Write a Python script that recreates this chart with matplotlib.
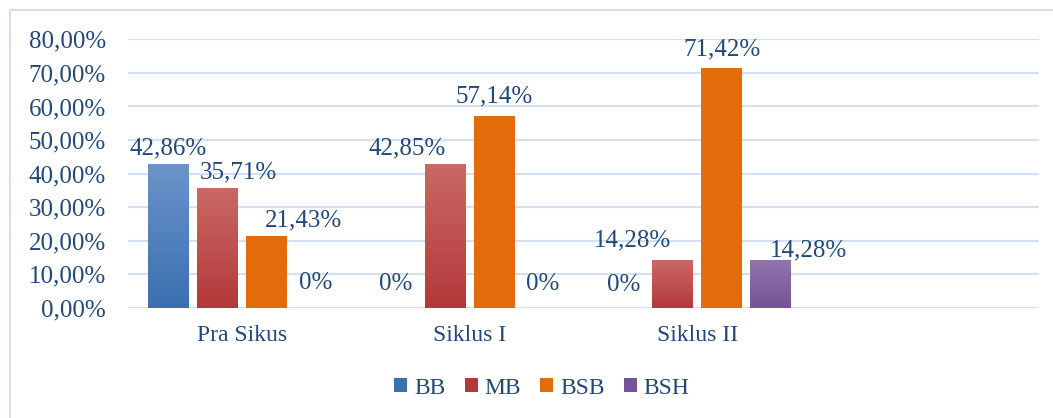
import numpy as np
import matplotlib.pyplot as plt
from matplotlib.patches import Patch, Rectangle
from matplotlib.colors import LinearSegmentedColormap
from matplotlib.ticker import FuncFormatter

# --- DATA ---
categories = ["Pra Sikus", "Siklus I", "Siklus II"]
series_names = ["BB", "MB", "BSB", "BSH"]
bb = [42.86, 0, 0]
mb = [35.71, 42.85, 14.28]
bsb = [21.43, 57.14, 71.42]
bsh = [0, 0, 14.28]
y_ticks = [0, 10, 20, 30, 40, 50, 60, 70, 80]

# --- STYLE ---
TEXT = "#1F497D"
GRID = "#D3E0F1"
# (top colour, bottom colour) for the gradient bars
BAR_COLORS = [("#6B94CA", "#3A6FB1"), ("#CA6964", "#B4383A"),
              ("#E46C0A", "#E46C0A"), ("#9075AD", "#765397")]
# label nudges in pixels (dx, dy above bar top), per series per category
LABEL_DX = [[0, 0, 0], [21, -38, -40], [37, 0, 0], [0, 0, 38]]
LABEL_DY = [[16, 24, 23], [16, 16, 20], [16, 20, 19], [25, 24, 10]]

plt.rcParams["font.family"] = ["Liberation Serif", "DejaVu Serif"]
FS = 17      # words
FS_NUM = 18  # numbers

fig = plt.figure(figsize=(10.53, 4.18), dpi=100)
ax = fig.add_axes([128 / 1053, 1 - 308 / 418, (1039 - 128) / 1053, (308 - 39.3) / 418])

# outer chart border
fig.patches.append(Rectangle((10 / 1053, -0.1), 1.2, 1 - 10 / 418 + 0.1,
                             transform=fig.transFigure, fill=False,
                             edgecolor=GRID, linewidth=1.5))

x = np.arange(len(categories))
width = 0.18
step = 0.2152
values = [bb, mb, bsb, bsh]

for i, (name, vals) in enumerate(zip(series_names, values)):
    pos = x + (i - 1.5) * step
    top_c, bot_c = BAR_COLORS[i]
    cmap = LinearSegmentedColormap.from_list(name, [bot_c, top_c])
    bars = ax.bar(pos, vals, width, color=top_c, edgecolor="none", zorder=2)
    for b, v in zip(bars, vals):
        if v <= 0:
            continue
        grad = np.linspace(0, 1, 100).reshape(-1, 1)
        im = ax.imshow(grad, cmap=cmap, origin="lower", aspect="auto",
                       extent=(b.get_x(), b.get_x() + width, 0, v), zorder=3)
        im.set_clip_path(b)
    for j, (p, v) in enumerate(zip(pos, vals)):
        label = "0%" if v == 0 else f"{v:.2f}%".replace(".", ",")
        ax.annotate(label, (p, v),
                    xytext=(LABEL_DX[i][j] * 0.72, LABEL_DY[i][j] * 0.72),
                    textcoords="offset points", ha="center", va="center",
                    fontsize=FS_NUM, color=TEXT, zorder=4)

ax.set_xlim(-0.5, 3.5)
ax.set_ylim(0, 80)
ax.set_yticks(y_ticks)
ax.yaxis.set_major_formatter(FuncFormatter(lambda v, _: f"{v:.2f}%".replace(".", ",")))
ax.set_xticks(x)
ax.set_xticklabels(categories)
ax.tick_params(axis="both", length=0, labelcolor=TEXT)
ax.tick_params(axis="y", pad=16, labelsize=FS_NUM)
ax.tick_params(axis="x", pad=12, labelsize=FS)
ax.grid(axis="y", color=GRID, linewidth=1.5, zorder=0)
ax.set_axisbelow(True)
for s in ax.spines.values():
    s.set_visible(False)

handles = [Patch(facecolor=BAR_COLORS[i][1], label=n) for i, n in enumerate(series_names)]
fig.legend(handles=handles, ncol=4, loc="center", bbox_to_anchor=(542 / 1053, 1 - 388 / 418),
           frameon=False, fontsize=FS, labelcolor=TEXT, handlelength=0.55,
           handleheight=0.55, handletextpad=0.3, columnspacing=0.8)

fig.savefig("out.png", dpi=100)
